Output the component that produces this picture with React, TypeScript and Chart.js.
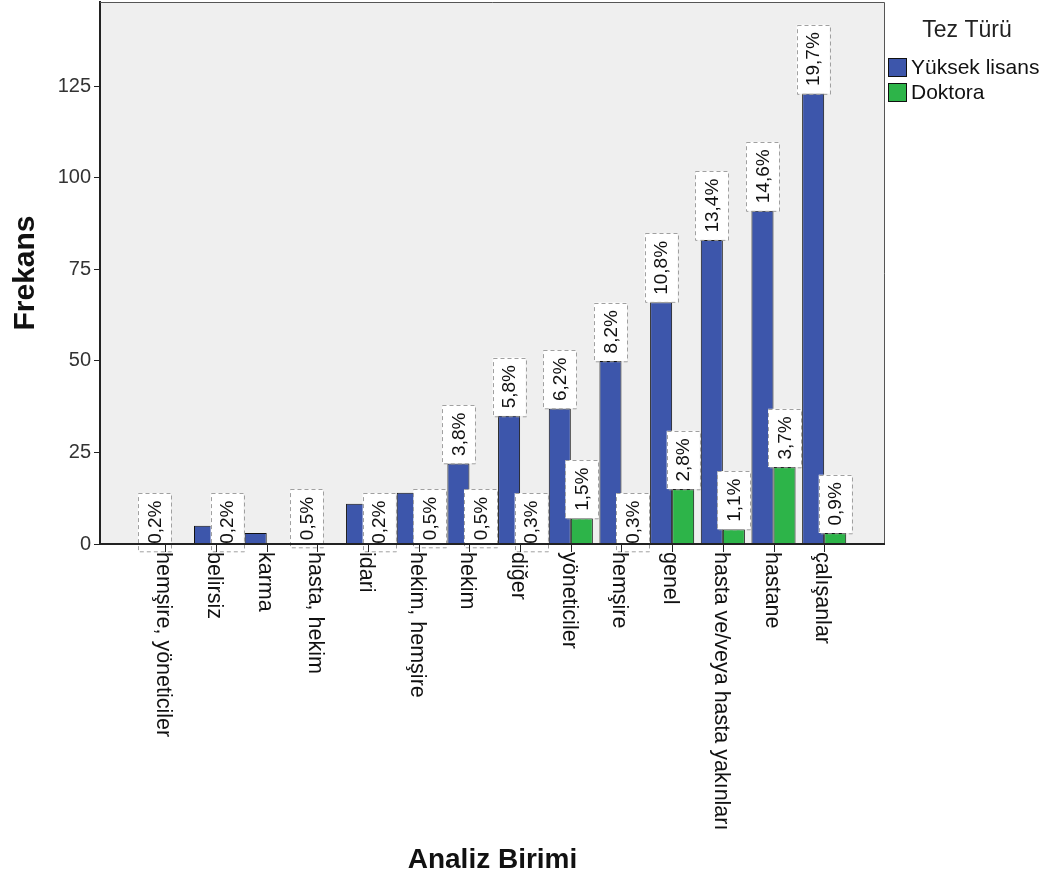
import React, { useEffect, useRef } from 'react';
import { Chart, registerables } from 'chart.js';

Chart.register(...registerables);

// ---------- data ----------
const categories = [
  'hemşire, yöneticiler',
  'belirsiz',
  'karma',
  'hasta, hekim',
  'idari',
  'hekim, hemşire',
  'hekim',
  'diğer',
  'yöneticiler',
  'hemşire',
  'genel',
  'hasta ve/veya hasta yakınları',
  'hastane',
  'çalışanlar',
];
const yuksekLisans = [1, 5, 3, 2, 11, 14, 22, 35, 37, 50, 66, 83, 91, 123];
const doktora = [0, 1, 0, 0, 1, 2, 2, 1, 7, 1, 15, 4, 21, 3];
const yuksekLisansLabels = ['0,2%', '', '', '0,5%', '', '', '3,8%', '5,8%', '6,2%', '8,2%', '10,8%', '13,4%', '14,6%', '19,7%'];
const doktoraLabels = ['', '0,2%', '', '', '0,2%', '0,5%', '0,5%', '0,3%', '1,5%', '0,3%', '2,8%', '1,1%', '3,7%', '0,9%'];
const seriesNames = ['Yüksek lisans', 'Doktora'];
const legendTitle = 'Tez Türü';
const yAxisTitle = 'Frekans';
const xAxisTitle = 'Analiz Birimi';
const yTickValues = [0, 25, 50, 75, 100, 125];

const FONT = '"Liberation Sans", Arial, sans-serif';
const BLUE = '#3d56ab';
const GREEN = '#2db449';

const seriesValues = [yuksekLisans, doktora];
const seriesLabels = [yuksekLisansLabels, doktoraLabels];
const seriesColors = [BLUE, GREEN];

const decorPlugin = {
  id: 'decor',
  beforeDraw(chart: any) {
    const { ctx, chartArea: a } = chart;
    ctx.save();
    ctx.fillStyle = '#ffffff';
    ctx.fillRect(0, 0, chart.width, chart.height);
    ctx.fillStyle = '#efefef';
    ctx.fillRect(a.left, a.top, a.right - a.left, a.bottom - a.top);
    ctx.restore();
  },
  afterDatasetsDraw(chart: any) {
    const { ctx } = chart;
    ctx.save();
    ctx.font = `19px ${FONT}`;
    seriesLabels.forEach((labels, di) => {
      const meta = chart.getDatasetMeta(di);
      labels.forEach((lab, i) => {
        if (!lab) return;
        const el = meta.data[i];
        const p = el.getProps(['x', 'y'], true);
        const v = seriesValues[di][i];
        const bottom = v <= 2 ? p.y + 11 : p.y;
        const tw = ctx.measureText(lab).width;
        const h = tw + 15;
        const w = 33;
        ctx.fillStyle = '#ffffff';
        ctx.fillRect(p.x - w / 2, bottom - h, w, h);
        ctx.setLineDash([4, 3]);
        ctx.strokeStyle = '#a0a0a0';
        ctx.lineWidth = 1;
        ctx.strokeRect(Math.round(p.x - w / 2) + 0.5, Math.round(bottom - h) + 0.5, w, h);
        ctx.setLineDash([]);
        ctx.save();
        ctx.translate(p.x + 1, bottom - h / 2);
        ctx.rotate(-Math.PI / 2);
        ctx.fillStyle = '#111111';
        ctx.textAlign = 'center';
        ctx.textBaseline = 'middle';
        ctx.fillText(lab, 0, 0);
        ctx.restore();
      });
    });
    ctx.restore();
  },
  afterDraw(chart: any) {
    const { ctx, chartArea: a } = chart;
    const xs = chart.scales.x;
    ctx.save();
    // frame
    ctx.strokeStyle = '#555555';
    ctx.lineWidth = 1;
    ctx.beginPath();
    ctx.moveTo(a.left, a.top + 0.5);
    ctx.lineTo(a.right - 0.5, a.top + 0.5);
    ctx.lineTo(a.right - 0.5, a.bottom);
    ctx.stroke();
    ctx.strokeStyle = '#222222';
    ctx.lineWidth = 2;
    ctx.beginPath();
    ctx.moveTo(a.left, a.bottom);
    ctx.lineTo(a.right, a.bottom);
    ctx.stroke();
    // x tick marks and labels
    ctx.lineWidth = 1;
    ctx.font = `21.5px ${FONT}`;
    ctx.fillStyle = '#111111';
    categories.forEach((c, i) => {
      const x = Math.round(xs.getPixelForValue(i)) + 0.5;
      ctx.beginPath();
      ctx.moveTo(x, a.bottom);
      ctx.lineTo(x, a.bottom + 8);
      ctx.stroke();
      ctx.save();
      ctx.translate(x - 3, a.bottom + 8);
      ctx.rotate(Math.PI / 2);
      ctx.textAlign = 'left';
      ctx.textBaseline = 'middle';
      ctx.fillText(c, 0, 0);
      ctx.restore();
    });
    // legend
    ctx.fillStyle = '#222222';
    ctx.font = `23px ${FONT}`;
    ctx.textAlign = 'center';
    ctx.textBaseline = 'middle';
    ctx.fillText(legendTitle, 967, 31);
    ctx.font = `21px ${FONT}`;
    ctx.textAlign = 'left';
    seriesNames.forEach((n, k) => {
      const y = 58 + k * 25;
      ctx.fillStyle = seriesColors[k];
      ctx.fillRect(888, y, 19, 19);
      ctx.strokeStyle = '#111111';
      ctx.lineWidth = 1;
      ctx.strokeRect(888.5, y + 0.5, 18, 18);
      ctx.fillStyle = '#111111';
      ctx.fillText(n, 911, y + 10);
    });
    ctx.restore();
  },
};

export default function App() {
  const ref = useRef<HTMLCanvasElement | null>(null);
  useEffect(() => {
    if (!ref.current) return;
    const chart = new Chart(ref.current, {
      type: 'bar',
      data: {
        datasets: seriesNames.map((name, k) => ({
          label: name,
          data: seriesValues[k].map((v, i) => ({ x: i, y: v === 0 ? null : v })),
          backgroundColor: seriesColors[k],
          borderColor: '#111111',
          borderWidth: 1,
          categoryPercentage: 0.87,
          barPercentage: 1.0,
        })),
      },
      options: {
        responsive: false,
        animation: false,
        layout: { padding: { top: 2, right: 170, left: 0, bottom: 0 } },
        plugins: { legend: { display: false }, tooltip: { enabled: false } },
        scales: {
          x: {
            type: 'linear',
            offset: false,
            min: -1.29,
            max: 14.2,
            grid: { display: false, offset: false },
            border: { display: false },
            ticks: { display: false },
            afterBuildTicks: (scale: any) => {
              scale.ticks = categories.map((_, i) => ({ value: i }));
            },
            afterFit: (scale: any) => {
              scale.height = 335;
              scale.paddingLeft = 0;
              scale.paddingRight = 0;
            },
            title: {
              display: true,
              text: xAxisTitle,
              color: '#111111',
              font: { family: FONT, size: 28, weight: 'bold' },
              padding: { top: 0, bottom: 2 },
            },
          },
          y: {
            min: 0,
            max: 148,
            grid: { display: true, drawOnChartArea: false, drawTicks: true, tickLength: 6, color: '#222222' },
            border: { display: true, color: '#222222', width: 2 },
            afterBuildTicks: (scale: any) => {
              scale.ticks = yTickValues.map((v) => ({ value: v }));
            },
            afterFit: (scale: any) => {
              scale.width = 100;
              scale.paddingTop = 0;
              scale.paddingBottom = 0;
            },
            ticks: {
              color: '#333333',
              font: { family: FONT, size: 20 },
              padding: 3,
            },
            title: {
              display: true,
              text: yAxisTitle,
              color: '#111111',
              font: { family: FONT, size: 30, weight: 'bold' },
              padding: { top: 8, bottom: 0 },
            },
          },
        },
      },
      plugins: [decorPlugin],
    } as any);
    return () => chart.destroy();
  }, []);
  return (
    <div style={{ position: 'fixed', left: 0, top: 0, width: 1055, height: 879 }}>
      <canvas ref={ref} width={1055} height={879} style={{ width: 1055, height: 879 }} />
    </div>
  );
}
